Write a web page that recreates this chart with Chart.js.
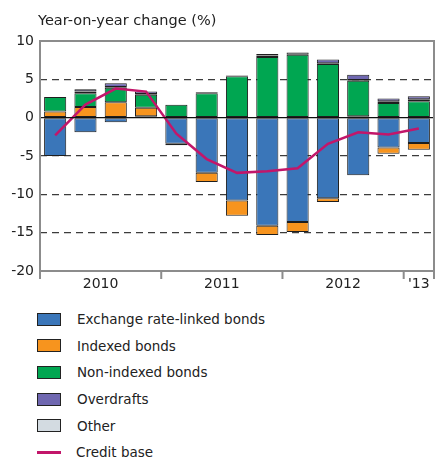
<!DOCTYPE html>
<html>
<head>
<meta charset="utf-8">
<script src="https://cdn.jsdelivr.net/npm/chart.js@4"></script>
<style>
  body { margin: 0; background: #fff; font-family: "DejaVu Sans", sans-serif; }
  #wrap { position: relative; width: 435px; height: 300px; }
  #legend { margin: 0; padding: 0; list-style: none; position: absolute; left: 37px; top: 306px; }
  #legend li { height: 26.6px; display: flex; align-items: center; font-size: 13.5px; color: #222; }
  #legend .box { width: 22px; height: 11px; border: 1px solid #222; margin-right: 16px; }
  #legend .line { width: 24px; height: 3px; margin-right: 15px; }
</style>
</head>
<body>
<div id="wrap"><canvas id="chart" width="435" height="300"></canvas></div>
<ul id="legend"></ul>
<script>
var quarters = ["2010Q1", "2010Q2", "2010Q3", "2010Q4", "2011Q1", "2011Q2", "2011Q3", "2011Q4",
                "2012Q1", "2012Q2", "2012Q3", "2012Q4", "2013Q1"];
var years = [["2010", 0, 3], ["2011", 4, 7], ["2012", 8, 11], ["'13", 12, 12]];

var exchangeLinked = [-5.0, -1.9, -0.6, 0.2, -3.4, -7.2, -10.8, -14.1, -13.6, -10.5, -7.5, -3.9, -3.3];
var indexedBonds   = [0.8, 1.4, 2.0, 1.1, -0.2, -1.2, -2.0, -1.2, -1.3, -0.5, 0.2, -0.8, -0.9];
var nonIndexed     = [1.9, 1.8, 1.9, 1.7, 1.7, 3.2, 5.4, 7.9, 8.2, 7.0, 4.6, 1.9, 2.15];
var otherItems     = [0.0, 0.2, 0.1, 0.1, 0.0, 0.1, 0.1, 0.2, 0.3, 0.1, 0.1, 0.25, 0.25];
var overdrafts     = [0.0, 0.3, 0.5, 0.3, 0.0, 0.0, 0.0, 0.2, 0.0, 0.5, 0.7, 0.35, 0.4];
var creditBase     = [-2.3, 1.7, 3.8, 3.4, -2.1, -5.4, -7.2, -7.0, -6.6, -3.4, -1.9, -2.2, -1.4];

var yTicks = [10, 5, 0, -5, -10, -15, -20];

var blue = "#3a76b9", orange = "#f7941e", green = "#00a651", purple = "#6f67b0", grey = "#d3dbe1", pink = "#c2166a";
var font = "DejaVu Sans";

function bar(label, data, color) {
    return { type: "bar", label: label, data: data, backgroundColor: color, borderColor: "#1e1e1e",
             borderWidth: 1, borderSkipped: false, barPercentage: 0.73, categoryPercentage: 1.0, stack: "s", order: 2 };
}

var extras = {
    id: "extras",
    beforeDatasetsDraw: function (chart) {
        var ctx = chart.ctx, a = chart.chartArea;
        ctx.save();
        ctx.font = "14.5px '" + font + "'";
        ctx.fillStyle = "#222";
        ctx.textBaseline = "middle";
        ctx.fillText("Year-on-year change (%)", a.left - 2, 21);
        ctx.restore();
    },
    afterDatasetsDraw: function (chart) {
        var ctx = chart.ctx, a = chart.chartArea, x = chart.scales.x, y = chart.scales.y;
        ctx.save();
        // zero line
        var y0 = y.getPixelForValue(0);
        ctx.strokeStyle = "#111";
        ctx.lineWidth = 1.2;
        ctx.beginPath(); ctx.moveTo(a.left, y0); ctx.lineTo(a.right, y0); ctx.stroke();
        // frame
        ctx.strokeStyle = "#8c8c8c";
        ctx.lineWidth = 2;
        ctx.strokeRect(a.left, a.top, a.right - a.left, a.bottom - a.top);
        // year ticks and labels
        var half = (x.getPixelForValue(1) - x.getPixelForValue(0)) / 2;
        ctx.beginPath();
        years.forEach(function (yr) {
            var l = x.getPixelForValue(yr[1]) - half;
            ctx.moveTo(l, a.bottom); ctx.lineTo(l, a.bottom + 8);
        });
        ctx.moveTo(a.right, a.bottom); ctx.lineTo(a.right, a.bottom + 8);
        ctx.stroke();
        ctx.fillStyle = "#222";
        ctx.font = "14px '" + font + "'";
        ctx.textAlign = "center";
        ctx.textBaseline = "middle";
        years.forEach(function (yr) {
            var c = (x.getPixelForValue(yr[1]) + x.getPixelForValue(yr[2])) / 2;
            ctx.fillText(yr[0], c, a.bottom + 13);
        });
        ctx.restore();
    }
};

var datasets = [
    bar("Exchange rate-linked bonds", exchangeLinked, blue),
    bar("Indexed bonds", indexedBonds, orange),
    bar("Non-indexed bonds", nonIndexed, green),
    bar("Other", otherItems, grey),
    bar("Overdrafts", overdrafts, purple),
    { type: "line", label: "Credit base", data: creditBase, borderColor: pink, borderWidth: 2.5,
      pointRadius: 0, tension: 0, fill: false, order: 1 }
];

new Chart(document.getElementById("chart"), {
    type: "bar",
    data: { labels: quarters, datasets: datasets },
    options: {
        responsive: false,
        animation: false,
        layout: { padding: { top: 41, right: 1, left: 0, bottom: 0 } },
        plugins: { legend: { display: false }, tooltip: { enabled: false }, title: { display: false } },
        scales: {
            x: {
                stacked: true,
                grid: { display: false },
                border: { display: false },
                ticks: { display: false },
                afterFit: function (s) { s.height = 29; }
            },
            y: {
                stacked: true,
                min: -20, max: 10,
                afterBuildTicks: function (s) { s.ticks = yTicks.map(function (v) { return { value: v }; }); },
                afterFit: function (s) { s.width = 40; },
                border: { display: false, dash: [7, 5] },
                grid: {
                    drawTicks: false,
                    lineWidth: 1.3,
                    color: function (c) {
                        var v = c.tick ? c.tick.value : null;
                        return (v === 10 || v === 0 || v === -20) ? "rgba(0,0,0,0)" : "#3c3c3c";
                    }
                },
                ticks: { padding: 6, color: "#222", font: { family: font, size: 14 } }
            }
        }
    },
    plugins: [extras]
});

// legend list built from the same series names
var legendItems = [
    ["Exchange rate-linked bonds", blue, "box"],
    ["Indexed bonds", orange, "box"],
    ["Non-indexed bonds", green, "box"],
    ["Overdrafts", purple, "box"],
    ["Other", grey, "box"],
    ["Credit base", pink, "line"]
];
var ul = document.getElementById("legend");
legendItems.forEach(function (it) {
    var li = document.createElement("li");
    var sw = document.createElement("span");
    sw.className = it[2];
    sw.style.background = it[1];
    li.appendChild(sw);
    li.appendChild(document.createTextNode(it[0]));
    ul.appendChild(li);
});
</script>
</body>
</html>
